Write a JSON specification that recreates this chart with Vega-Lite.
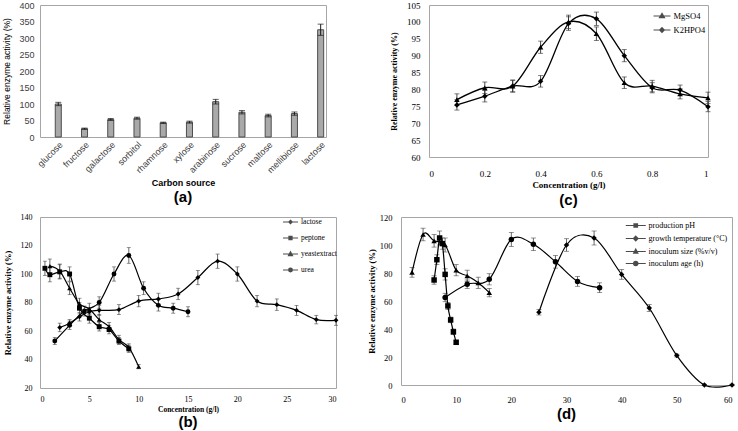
{
  "$schema": "https://vega.github.io/schema/vega-lite/v6.json",
  "padding": {"left": 2, "top": 0, "right": 0, "bottom": 0},
  "background": "white",
  "spacing": 3,
  "resolve": {"scale": {"shape": "independent", "x": "independent", "y": "independent"}, "legend": {"shape": "independent"}},
  "config": {
    "view": {"stroke": "#a6a6a6", "strokeWidth": 1},
    "axis": {"grid": false, "ticks": false, "domain": false, "labelColor": "#000000", "titleColor": "#000000"},
    "legend": {"padding": 0, "title": null, "labelColor": "#000000", "symbolStrokeColor": "#000000", "symbolStrokeWidth": 1.1, "labelFont": "Liberation Serif"},
    "title": {"font": "Liberation Sans", "fontSize": 15, "fontWeight": "bold", "color": "#000000"}
  },
  "datasets": {
    "a": [
      {"source": "glucose", "activity": 100, "err": 5},
      {"source": "fructose", "activity": 25, "err": 2},
      {"source": "galactose", "activity": 53, "err": 3},
      {"source": "sorbitol", "activity": 57, "err": 3},
      {"source": "rhamnose", "activity": 43, "err": 2},
      {"source": "xylose", "activity": 45, "err": 3},
      {"source": "arabinose", "activity": 107, "err": 7},
      {"source": "sucrose", "activity": 75, "err": 5},
      {"source": "maltose", "activity": 65, "err": 4},
      {"source": "mellibiose", "activity": 71, "err": 5},
      {"source": "lactose", "activity": 325, "err": 17}
    ],
    "b": [
      {"s": "lactose", "x": 2, "y": 62.5, "e": 3},
      {"s": "lactose", "x": 3, "y": 65.5, "e": 2.5},
      {"s": "lactose", "x": 4, "y": 70, "e": 3},
      {"s": "lactose", "x": 5, "y": 73.5, "e": 3},
      {"s": "lactose", "x": 6, "y": 74.5, "e": 3.5},
      {"s": "lactose", "x": 8, "y": 75, "e": 3.5},
      {"s": "lactose", "x": 10, "y": 81, "e": 4},
      {"s": "lactose", "x": 12, "y": 82.5, "e": 4},
      {"s": "lactose", "x": 14, "y": 86, "e": 4},
      {"s": "lactose", "x": 16, "y": 97.5, "e": 5},
      {"s": "lactose", "x": 18, "y": 109, "e": 5},
      {"s": "lactose", "x": 20, "y": 100, "e": 5},
      {"s": "lactose", "x": 22, "y": 81, "e": 4},
      {"s": "lactose", "x": 24, "y": 78.5, "e": 4},
      {"s": "lactose", "x": 26, "y": 74.5, "e": 3.5},
      {"s": "lactose", "x": 28, "y": 68, "e": 3},
      {"s": "lactose", "x": 30, "y": 67.5, "e": 3.5},
      {"s": "peptone", "x": 0.5, "y": 104, "e": 5},
      {"s": "peptone", "x": 1, "y": 99.5, "e": 5},
      {"s": "peptone", "x": 2, "y": 101.5, "e": 5},
      {"s": "peptone", "x": 3, "y": 100, "e": 5},
      {"s": "peptone", "x": 4, "y": 76, "e": 4},
      {"s": "peptone", "x": 5, "y": 69, "e": 3.5},
      {"s": "peptone", "x": 6, "y": 63, "e": 3},
      {"s": "peptone", "x": 7, "y": 61, "e": 3},
      {"s": "peptone", "x": 8, "y": 53, "e": 2.5},
      {"s": "peptone", "x": 9, "y": 47.5, "e": 2.5},
      {"s": "yeastextract", "x": 1, "y": 105.5, "e": 5},
      {"s": "yeastextract", "x": 2, "y": 102, "e": 5},
      {"s": "yeastextract", "x": 3, "y": 90, "e": 4.5},
      {"s": "yeastextract", "x": 4, "y": 79, "e": 4},
      {"s": "yeastextract", "x": 5, "y": 75.5, "e": 4},
      {"s": "yeastextract", "x": 6, "y": 68, "e": 3.5},
      {"s": "yeastextract", "x": 7, "y": 63, "e": 3},
      {"s": "yeastextract", "x": 8, "y": 54, "e": 3},
      {"s": "yeastextract", "x": 9, "y": 48.5, "e": 2.5},
      {"s": "yeastextract", "x": 10, "y": 35, "e": 1.5},
      {"s": "urea", "x": 1.5, "y": 53, "e": 2.5},
      {"s": "urea", "x": 3, "y": 64, "e": 3},
      {"s": "urea", "x": 4.5, "y": 74, "e": 3.5},
      {"s": "urea", "x": 6, "y": 80, "e": 4},
      {"s": "urea", "x": 7.5, "y": 100, "e": 5},
      {"s": "urea", "x": 9, "y": 113, "e": 5.5},
      {"s": "urea", "x": 10.5, "y": 90, "e": 4.5},
      {"s": "urea", "x": 12, "y": 78, "e": 4},
      {"s": "urea", "x": 13.5, "y": 76, "e": 3.5},
      {"s": "urea", "x": 15, "y": 73.5, "e": 3.5}
    ],
    "c": [
      {"s": "MgSO4", "x": 0.1, "y": 77, "e": 1.7},
      {"s": "MgSO4", "x": 0.2, "y": 80.5, "e": 1.7},
      {"s": "MgSO4", "x": 0.3, "y": 81, "e": 1.8},
      {"s": "MgSO4", "x": 0.4, "y": 92.5, "e": 1.8},
      {"s": "MgSO4", "x": 0.5, "y": 100, "e": 2},
      {"s": "MgSO4", "x": 0.6, "y": 96.5, "e": 2},
      {"s": "MgSO4", "x": 0.7, "y": 82, "e": 1.7},
      {"s": "MgSO4", "x": 0.8, "y": 81, "e": 1.7},
      {"s": "MgSO4", "x": 0.9, "y": 78.7, "e": 1.5},
      {"s": "MgSO4", "x": 1, "y": 77.5, "e": 1.7},
      {"s": "K2HPO4", "x": 0.1, "y": 75.4, "e": 1.5},
      {"s": "K2HPO4", "x": 0.2, "y": 78, "e": 1.7},
      {"s": "K2HPO4", "x": 0.3, "y": 81, "e": 1.7},
      {"s": "K2HPO4", "x": 0.4, "y": 82.4, "e": 1.7},
      {"s": "K2HPO4", "x": 0.5, "y": 99.5, "e": 2},
      {"s": "K2HPO4", "x": 0.6, "y": 100.9, "e": 2},
      {"s": "K2HPO4", "x": 0.7, "y": 90, "e": 1.8},
      {"s": "K2HPO4", "x": 0.8, "y": 80.5, "e": 1.5},
      {"s": "K2HPO4", "x": 0.9, "y": 79.8, "e": 1.5},
      {"s": "K2HPO4", "x": 1, "y": 74.9, "e": 1.5}
    ],
    "d": [
      {"s": "production pH", "x": 6, "y": 75, "e": 3},
      {"s": "production pH", "x": 6.5, "y": 89.5, "e": 3.5},
      {"s": "production pH", "x": 7, "y": 105, "e": 5},
      {"s": "production pH", "x": 7.5, "y": 101, "e": 4},
      {"s": "production pH", "x": 8, "y": 79, "e": 4},
      {"s": "production pH", "x": 8.5, "y": 56.5, "e": 2.5},
      {"s": "production pH", "x": 9, "y": 46.5, "e": 2},
      {"s": "production pH", "x": 9.5, "y": 38, "e": 2},
      {"s": "production pH", "x": 10, "y": 30.5, "e": 1.5},
      {"s": "growth temperature (°C)", "x": 25, "y": 52, "e": 2},
      {"s": "growth temperature (°C)", "x": 30, "y": 100, "e": 4.5},
      {"s": "growth temperature (°C)", "x": 35, "y": 105, "e": 5},
      {"s": "growth temperature (°C)", "x": 40, "y": 79, "e": 3.5},
      {"s": "growth temperature (°C)", "x": 45, "y": 55, "e": 2.5},
      {"s": "growth temperature (°C)", "x": 50, "y": 21, "e": 1},
      {"s": "growth temperature (°C)", "x": 55, "y": 0, "e": 0.5},
      {"s": "growth temperature (°C)", "x": 60, "y": 0, "e": 0.5},
      {"s": "inoculum size (%v/v)", "x": 2, "y": 80.5, "e": 3.5},
      {"s": "inoculum size (%v/v)", "x": 4, "y": 107.5, "e": 4.5},
      {"s": "inoculum size (%v/v)", "x": 6, "y": 103, "e": 4.5},
      {"s": "inoculum size (%v/v)", "x": 8, "y": 100, "e": 5},
      {"s": "inoculum size (%v/v)", "x": 10, "y": 82, "e": 4},
      {"s": "inoculum size (%v/v)", "x": 12, "y": 78, "e": 4},
      {"s": "inoculum size (%v/v)", "x": 14, "y": 73, "e": 4},
      {"s": "inoculum size (%v/v)", "x": 16, "y": 66, "e": 3},
      {"s": "inoculum age (h)", "x": 8, "y": 62.5, "e": 3},
      {"s": "inoculum age (h)", "x": 12, "y": 72, "e": 3},
      {"s": "inoculum age (h)", "x": 16, "y": 75.5, "e": 4},
      {"s": "inoculum age (h)", "x": 20, "y": 104, "e": 5},
      {"s": "inoculum age (h)", "x": 24, "y": 100.5, "e": 4.5},
      {"s": "inoculum age (h)", "x": 28, "y": 88, "e": 4.5},
      {"s": "inoculum age (h)", "x": 32, "y": 74, "e": 3.5},
      {"s": "inoculum age (h)", "x": 36, "y": 69.5, "e": 3.5}
    ]
  },
  "vconcat": [
    {
      "spacing": 62,
      "resolve": {"scale": {"shape": "independent", "x": "independent", "y": "independent"}, "legend": {"shape": "independent"}},
      "hconcat": [
        {
          "width": 286,
          "height": 132,
          "data": {"name": "a"},
          "title": {"text": "(a)", "orient": "bottom", "offset": 2},
          "encoding": {
            "x": {"field": "source", "type": "nominal", "sort": null,
              "scale": {"paddingInner": 0.77, "paddingOuter": 0.335, "align": 0.868},
              "axis": {"title": "Carbon source", "labelAngle": -45, "labelFont": "Liberation Sans", "labelFontSize": 9, "labelColor": "#404040", "labelPadding": 3, "titleFont": "Liberation Sans", "titleFontSize": 9, "titleFontWeight": "bold", "titlePadding": 4}},
            "y": {"field": "activity", "type": "quantitative", "scale": {"domain": [0, 400], "nice": false},
              "axis": {"values": [0, 50, 100, 150, 200, 250, 300, 350, 400], "title": "Relative enzyme activity (%)", "labelFont": "Liberation Sans", "labelFontSize": 9, "labelColor": "#404040", "labelPadding": 6, "titleFont": "Liberation Sans", "titleFontSize": 8.5, "titleFontWeight": "normal", "titlePadding": 7}}
          },
          "layer": [
            {"mark": {"type": "bar", "fill": "#a9a9a9", "stroke": "#4d4d4d", "strokeWidth": 1}},
            {"mark": {"type": "errorbar", "ticks": {"size": 6}, "color": "#1a1a1a", "thickness": 1}, "encoding": {"yError": {"field": "err"}}}
          ]
        },
        {
          "width": 279,
          "height": 152,
          "data": {"name": "c"},
          "title": {"text": "(c)", "orient": "bottom", "offset": 4},
          "resolve": {"scale": {"shape": "independent"}, "legend": {"shape": "independent"}},
          "encoding": {
            "x": {"field": "x", "type": "quantitative", "scale": {"domain": [0, 1], "nice": false},
              "axis": {"values": [0, 0.2, 0.4, 0.6, 0.8, 1], "format": "~g", "title": "Concentration (g/l)", "labelFont": "Liberation Serif", "labelFontSize": 9, "labelPadding": 12, "titleFont": "Liberation Serif", "titleFontSize": 9, "titleFontWeight": "bold", "titlePadding": 2}},
            "y": {"field": "y", "type": "quantitative", "scale": {"domain": [60, 105], "nice": false},
              "axis": {"values": [60, 65, 70, 75, 80, 85, 90, 95, 100, 105], "title": "Relative enzyme activity (%)", "labelFont": "Liberation Serif", "labelFontSize": 9, "labelPadding": 9, "titleFont": "Liberation Serif", "titleFontSize": 8, "titleFontWeight": "bold", "titlePadding": 8}}
          },
          "layer": [
            {"mark": {"type": "errorbar", "ticks": {"size": 5}, "color": "#333333", "thickness": 0.9}, "encoding": {"yError": {"field": "e"}}},
            {"mark": {"type": "line", "interpolate": "cardinal", "color": "#000000", "strokeWidth": 1.3}, "encoding": {"detail": {"field": "s"}}},
            {"mark": {"type": "point", "filled": true, "size": 30, "color": "#000000", "opacity": 1},
              "encoding": {"shape": {"field": "s", "type": "nominal", "legend": null,
                "scale": {"domain": ["MgSO4", "K2HPO4"], "range": ["triangle-up", "diamond"]}}}},
            {"mark": {"type": "point", "filled": false, "size": 0, "color": "#000000"},
              "encoding": {"shape": {"field": "s", "type": "nominal",
                "scale": {"domain": ["MgSO4", "K2HPO4"], "range": ["M-1.06,0L1.06,0M0,-0.34L0.32,0.22L-0.32,0.22ZM0,-0.17L0.16,0.11L-0.16,0.11Z", "M-1.06,0L1.06,0M0,-0.3L0.3,0L0,0.3L-0.3,0ZM0,-0.15L0.15,0L0,0.15L-0.15,0Z"]},
                "legend": {"orient": "none", "legendX": 224, "legendY": 2, "symbolSize": 256, "symbolStrokeColor": "#000000", "labelFontSize": 8.5, "labelOffset": 2.5, "rowPadding": 0}}}}
          ]
        }
      ]
    },
    {
      "spacing": 25,
      "resolve": {"scale": {"shape": "independent", "x": "independent", "y": "independent"}, "legend": {"shape": "independent"}},
      "hconcat": [
        {
          "width": 296,
          "height": 171,
          "data": {"name": "b"},
          "title": {"text": "(b)", "orient": "bottom", "offset": 2},
          "resolve": {"scale": {"shape": "independent"}, "legend": {"shape": "independent"}},
          "encoding": {
            "x": {"field": "x", "type": "quantitative", "scale": {"domain": [0, 30], "nice": false},
              "axis": {"values": [0, 5, 10, 15, 20, 25, 30], "title": "Concentration (g/l)", "labelFont": "Liberation Serif", "labelFontSize": 8, "labelPadding": 7, "titleFont": "Liberation Serif", "titleFontSize": 7.5, "titleFontWeight": "bold", "titlePadding": 2}},
            "y": {"field": "y", "type": "quantitative", "scale": {"domain": [20, 140], "nice": false},
              "axis": {"values": [20, 40, 60, 80, 100, 120, 140], "title": "Relative enzyme activity (%)", "labelFont": "Liberation Serif", "labelFontSize": 8, "labelPadding": 8, "titleFont": "Liberation Serif", "titleFontSize": 8.5, "titleFontWeight": "bold", "titlePadding": 8}}
          },
          "layer": [
            {"mark": {"type": "errorbar", "ticks": {"size": 4}, "color": "#444444", "thickness": 0.8}, "encoding": {"yError": {"field": "e"}}},
            {"mark": {"type": "line", "interpolate": "cardinal", "color": "#000000", "strokeWidth": 1.2}, "encoding": {"detail": {"field": "s"}}},
            {"mark": {"type": "point", "filled": true, "size": 24, "color": "#000000", "opacity": 1},
              "encoding": {"shape": {"field": "s", "type": "nominal", "legend": null,
                "scale": {"domain": ["lactose", "peptone", "yeastextract", "urea"], "range": ["diamond", "square", "triangle-up", "circle"]}}}},
            {"mark": {"type": "point", "filled": false, "size": 0, "color": "#000000"},
              "encoding": {"shape": {"field": "s", "type": "nominal",
                "scale": {"domain": ["lactose", "peptone", "yeastextract", "urea"], "range": ["M-0.94,0L0.94,0M0,-0.22L0.22,0L0,0.22L-0.22,0ZM0,-0.11L0.11,0L0,0.11L-0.11,0Z", "M-0.94,0L0.94,0M-0.2,-0.2L0.2,-0.2L0.2,0.2L-0.2,0.2ZM-0.1,-0.1L0.1,-0.1L0.1,0.1L-0.1,0.1Z", "M-0.94,0L0.94,0M0,-0.28L0.26,0.2L-0.26,0.2ZM0,-0.14L0.13,0.1L-0.13,0.1Z", "M-0.94,0L0.94,0M-0.24,0A0.24,0.24,0,1,0,0.24,0A0.24,0.24,0,1,0,-0.24,0ZM-0.12,0A0.12,0.12,0,1,0,0.12,0A0.12,0.12,0,1,0,-0.12,0Z"]},
                "legend": {"orient": "none", "legendX": 241.5, "legendY": -4, "symbolSize": 256, "symbolStrokeColor": "#000000", "labelFontSize": 7.5, "labelOffset": 1.5, "rowPadding": 3}}}}
          ]
        },
        {
          "width": 331,
          "height": 168,
          "data": {"name": "d"},
          "title": {"text": "(d)", "orient": "bottom", "offset": 3},
          "resolve": {"scale": {"shape": "independent"}, "legend": {"shape": "independent"}},
          "encoding": {
            "x": {"field": "x", "type": "quantitative", "scale": {"domain": [0, 60], "nice": false},
              "axis": {"values": [0, 10, 20, 30, 40, 50, 60], "title": null, "labelFont": "Liberation Serif", "labelFontSize": 8.5, "labelPadding": 10}},
            "y": {"field": "y", "type": "quantitative", "scale": {"domain": [0, 120], "nice": false},
              "axis": {"values": [0, 20, 40, 60, 80, 100, 120], "title": "Relative enzyme activity (%)", "labelFont": "Liberation Serif", "labelFontSize": 8.5, "labelPadding": 9, "titleFont": "Liberation Serif", "titleFontSize": 8.5, "titleFontWeight": "bold", "titlePadding": 3}}
          },
          "layer": [
            {"mark": {"type": "errorbar", "ticks": {"size": 5}, "color": "#444444", "thickness": 0.8}, "encoding": {"yError": {"field": "e"}}},
            {"mark": {"type": "line", "interpolate": "cardinal", "color": "#000000", "strokeWidth": 1.2}, "encoding": {"detail": {"field": "s"}}},
            {"mark": {"type": "point", "filled": true, "size": 30, "color": "#000000", "opacity": 1},
              "encoding": {"shape": {"field": "s", "type": "nominal", "legend": null,
                "scale": {"domain": ["production pH", "growth temperature (°C)", "inoculum size (%v/v)", "inoculum age (h)"], "range": ["square", "diamond", "triangle-up", "circle"]}}}},
            {"mark": {"type": "point", "filled": false, "size": 0, "color": "#000000"},
              "encoding": {"shape": {"field": "s", "type": "nominal",
                "scale": {"domain": ["production pH", "growth temperature (°C)", "inoculum size (%v/v)", "inoculum age (h)"], "range": ["M-1.38,0L1.38,0M-0.25,-0.25L0.25,-0.25L0.25,0.25L-0.25,0.25ZM-0.12,-0.12L0.12,-0.12L0.12,0.12L-0.12,0.12Z", "M-1.38,0L1.38,0M0,-0.33L0.33,0L0,0.33L-0.33,0ZM0,-0.16L0.16,0L0,0.16L-0.16,0Z", "M-1.38,0L1.38,0M0,-0.34L0.3,0.24L-0.3,0.24ZM0,-0.17L0.15,0.12L-0.15,0.12Z", "M-1.38,0L1.38,0M-0.3,0A0.3,0.3,0,1,0,0.3,0A0.3,0.3,0,1,0,-0.3,0ZM-0.15,0A0.15,0.15,0,1,0,0.15,0A0.15,0.15,0,1,0,-0.15,0Z"]},
                "legend": {"orient": "none", "legendX": 226.75, "legendY": 0.5, "symbolSize": 210, "symbolStrokeColor": "#000000", "labelFontSize": 8, "labelOffset": 4.75, "rowPadding": 0}}}}
          ]
        }
      ]
    }
  ]
}
